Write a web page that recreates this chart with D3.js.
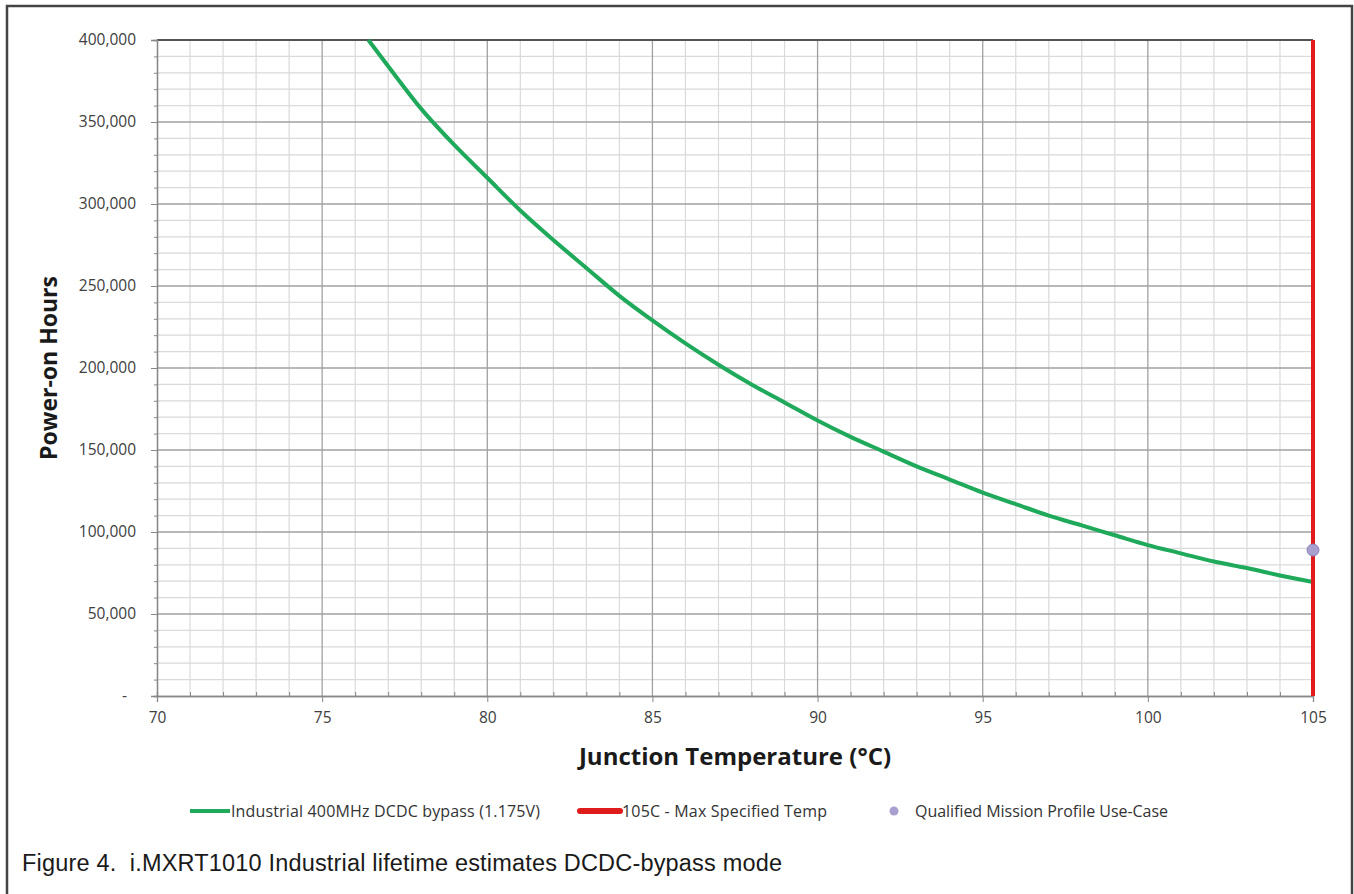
<!DOCTYPE html>
<html><head><meta charset="utf-8">
<script src="https://cdn.jsdelivr.net/npm/d3@7"></script>
<style>body{margin:0;background:#fff}</style>
</head><body>
<script>
const tempsC = [76.4,77,78,79,80,81,82,83,84,85,86,87,88,89,90,91,92,93,94,95,96,97,98,99,100,101,102,103,104,105];
const powerOnHours = [400000,384000,358000,336000,316000,296000,278000,261000,244000,229000,215000,202000,190000,179000,168000,158000,149000,140000,132000,124000,117000,110000,104000,98000,92000,87000,82000,78000,73500,69500];
const maxTemp = [105];
const missionPoint = [{t:105, h:89000}];
const xTicks = [70,75,80,85,90,95,100,105];
const yTicks = [0,50000,100000,150000,200000,250000,300000,350000,400000];
const seriesNames = ["Industrial 400MHz DCDC bypass (1.175V)","105C - Max Specified Temp","Qualified Mission Profile Use-Case"];
const caption = "Figure 4.  i.MXRT1010 Industrial lifetime estimates DCDC-bypass mode";

const W=1354,H=894;
const svg=d3.select("body").append("svg").attr("width",W).attr("height",H);
svg.append("rect").attr("x",7).attr("y",6).attr("width",1345).attr("height",H+10).attr("fill","#fff").attr("stroke","#444").attr("stroke-width",2.5);

const L=157,R=1313,T=40,B=696;
const x=d3.scaleLinear().domain([70,105]).range([L,R]);
const y=d3.scaleLinear().domain([0,400000]).range([B,T]);
const g=svg.append("g");
const xMinor=d3.range(70,106,1).filter(v=>v%5!==0);
const yMinor=d3.range(0,400001,10000).filter(v=>v%50000!==0);
g.selectAll(".xm").data(xMinor).join("line").attr("x1",d=>x(d)).attr("x2",d=>x(d)).attr("y1",T).attr("y2",B).attr("stroke","#dadada").attr("stroke-width",1.2);
g.selectAll(".ym").data(yMinor).join("line").attr("x1",L).attr("x2",R).attr("y1",d=>y(d)).attr("y2",d=>y(d)).attr("stroke","#dadada").attr("stroke-width",1.2);
g.selectAll(".xM").data(xTicks.slice(1)).join("line").attr("x1",d=>x(d)).attr("x2",d=>x(d)).attr("y1",T).attr("y2",B).attr("stroke","#a0a0a0").attr("stroke-width",1.3);
g.selectAll(".yM").data(yTicks.slice(1)).join("line").attr("x1",L).attr("x2",R).attr("y1",d=>y(d)).attr("y2",d=>y(d)).attr("stroke","#a0a0a0").attr("stroke-width",1.3);
g.append("line").attr("x1",L).attr("x2",R).attr("y1",T).attr("y2",T).attr("stroke","#333").attr("stroke-width",1.5);

const fmt=d=>d===0?"-":d3.format(",")(d);
const yAx=svg.append("g").attr("transform",`translate(${L},0)`).call(d3.axisLeft(y).tickValues(yTicks).tickFormat(fmt).tickSize(6).tickPadding(15));
const yAxm=svg.append("g").attr("transform",`translate(${L},0)`).call(d3.axisLeft(y).tickValues(yMinor).tickFormat("").tickSize(3));
const xAx=svg.append("g").attr("transform",`translate(0,${B})`).call(d3.axisBottom(x).tickValues(xTicks).tickFormat(d3.format("d")).tickSize(6).tickPadding(10));
const xAxm=svg.append("g").attr("transform",`translate(0,${B})`).call(d3.axisBottom(x).tickValues(xMinor).tickFormat("").tickSize(-4));
[yAx,yAxm,xAx,xAxm].forEach(a=>{a.select(".domain").attr("stroke","#888").attr("stroke-width",1.3);a.selectAll(".tick line").attr("stroke","#888");
 a.selectAll("text").attr("font-family","Open Sans, sans-serif").attr("font-size",15.5).attr("fill","#404040");});
yAx.selectAll(".tick text").filter(d=>d===0).attr("dx",-9);

const line=d3.line().x((d,i)=>x(tempsC[i])).y(d=>y(d)).curve(d3.curveMonotoneX);
svg.append("path").datum(powerOnHours).attr("d",line).attr("fill","none").attr("stroke","#1fa95a").attr("stroke-width",4);
svg.selectAll(".red").data(maxTemp).join("line").attr("x1",d=>x(d)).attr("x2",d=>x(d)).attr("y1",T).attr("y2",B).attr("stroke","#e01b1b").attr("stroke-width",4);
svg.selectAll(".pt").data(missionPoint).join("circle").attr("cx",d=>x(d.t)).attr("cy",d=>y(d.h)).attr("r",6).attr("fill","#a9a0cf").attr("stroke","#8c82b8").attr("stroke-width",1);

svg.append("text").attr("transform","translate(57,368) rotate(-90)").attr("text-anchor","middle").attr("font-family","Open Sans, sans-serif").attr("font-weight","bold").attr("font-size",23).attr("fill","#1a1a1a").text("Power-on Hours");
svg.append("text").attr("x",735).attr("y",765).attr("text-anchor","middle").attr("font-family","Open Sans, sans-serif").attr("font-weight","bold").attr("font-size",24).attr("fill","#1a1a1a").text("Junction Temperature (°C)");

const lg=svg.append("g").attr("font-family","Open Sans, sans-serif").attr("font-size",16).attr("fill","#333");
lg.append("line").attr("x1",190).attr("x2",230).attr("y1",811).attr("y2",811).attr("stroke","#1fa95a").attr("stroke-width",4);
lg.append("text").attr("x",231).attr("y",817).attr("textLength",309).text(seriesNames[0]);
lg.append("line").attr("x1",580).attr("x2",620).attr("y1",811).attr("y2",811).attr("stroke","#e01b1b").attr("stroke-width",6).attr("stroke-linecap","round");
lg.append("text").attr("x",622).attr("y",817).attr("textLength",205).text(seriesNames[1]);
lg.append("circle").attr("cx",894).attr("cy",811).attr("r",4.5).attr("fill","#a9a0cf");
lg.append("text").attr("x",915).attr("y",817).attr("textLength",253).text(seriesNames[2]);

svg.append("text").attr("x",22).attr("y",871).attr("font-family","Liberation Sans, Arial, sans-serif").attr("font-size",23.5).attr("textLength",760).attr("fill","#1a1a1a").style("white-space","pre").text(caption);
</script>
</body></html>
